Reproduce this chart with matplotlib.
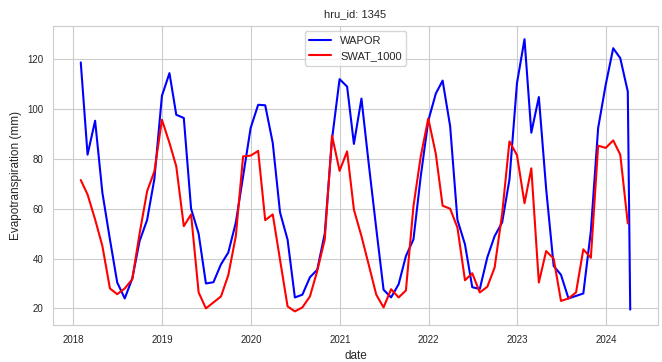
import matplotlib
matplotlib.use("Agg")
import matplotlib.pyplot as plt
import matplotlib.dates as mdates
import pandas as pd
import seaborn as sns

# monthly dates (month end); WAPOR has one extra record in April 2024
dates = list(pd.date_range("2018-01-31", "2024-03-31", freq="ME"))
wapor_dates = dates + [pd.Timestamp("2024-04-10")]

wapor = [
    118.7, 81.7, 95.3, 66.4, 47.7, 30.4, 24.0, 32.0, 47.0, 55.5, 72.0, 105.3,   # 2018
    114.4, 97.7, 96.4, 60.0, 50.0, 30.0, 30.5, 37.7, 42.4, 54.4, 73.0, 92.4,     # 2019
    101.7, 101.5, 86.4, 58.5, 47.6, 24.4, 25.5, 32.5, 35.5, 50.0, 88.0, 112.0,   # 2020
    109.0, 86.0, 104.2, 78.0, 52.0, 27.5, 24.4, 29.7, 41.0, 47.7, 73.0, 95.3,    # 2021
    106.2, 111.4, 93.1, 55.5, 45.7, 28.5, 27.8, 40.5, 49.0, 54.5, 71.7, 110.4,   # 2022
    128.0, 90.5, 104.8, 68.0, 37.0, 33.5, 24.0, 25.0, 26.0, 51.0, 92.4, 109.7,   # 2023
    124.4, 120.4, 107.0, 19.5,                                                   # 2024
]

swat_1000 = [
    71.5, 65.7, 55.7, 45.0, 28.0, 25.7, 28.0, 31.7, 50.0, 67.0, 75.0, 95.7,      # 2018
    86.4, 77.0, 53.0, 57.7, 26.4, 20.0, 22.4, 24.8, 33.3, 49.0, 81.0, 81.3,      # 2019
    83.2, 55.4, 57.7, 39.5, 20.8, 18.8, 20.4, 24.8, 35.0, 47.7, 89.3, 75.2,      # 2020
    83.0, 59.6, 49.0, 37.5, 25.5, 20.4, 27.7, 24.4, 27.2, 61.0, 81.0, 96.2,      # 2021
    82.0, 61.2, 60.0, 52.4, 31.3, 34.1, 26.4, 28.7, 36.4, 58.0, 87.0, 81.5,      # 2022
    62.2, 76.2, 30.4, 43.0, 40.0, 23.0, 24.0, 26.4, 43.7, 40.3, 85.3, 84.4,      # 2023
    87.4, 81.7, 54.1,                                                            # 2024
]

hru_id = 1345

sns.set_style("whitegrid")
plt.rcParams["font.family"] = ["Liberation Sans", "DejaVu Sans"]

fig = plt.figure(figsize=(6.62, 3.62), dpi=100)
ax = fig.add_axes([0.0805, 0.1022, 0.913, 0.827])

ax.plot(wapor_dates, wapor, color="blue", linewidth=1.5, label="WAPOR")
ax.plot(dates, swat_1000, color="red", linewidth=1.5, label="SWAT_1000")

ax.xaxis.set_major_locator(mdates.YearLocator())
ax.xaxis.set_major_formatter(mdates.DateFormatter("%Y"))
ax.set_yticks([20, 40, 60, 80, 100, 120])
ax.tick_params(labelsize=7, colors=".15")

ax.set_title(f"hru_id: {hru_id}", fontsize=8, color=".15")
ax.set_xlabel("date", fontsize=8.5, color=".15")
ax.set_ylabel("Evapotranspiration (mm)", fontsize=8.5, color=".15")
ax.legend(loc="upper center", fontsize=8)

fig.savefig("out.png", dpi=100)
